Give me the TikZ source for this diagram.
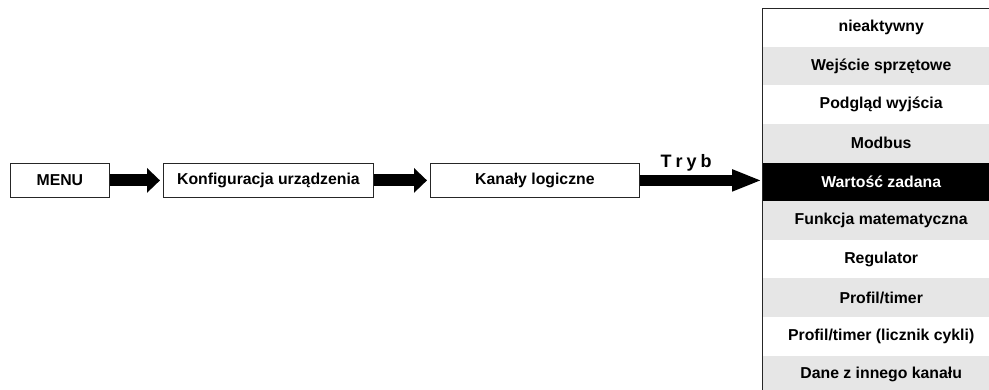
\documentclass[tikz,border=0pt]{standalone}
\usepackage{fontspec}
\setmainfont{Liberation Sans}
\usetikzlibrary{arrows.meta}
\definecolor{rowgray}{HTML}{E6E6E6}
\begin{document}
\begin{tikzpicture}[x=1pt,y=-1pt,
  font=\fontsize{15.8}{18}\selectfont\bfseries,
  box/.style={draw=black!85, line width=0.8pt, inner sep=0pt, minimum height=34pt, anchor=north west},
  row/.style={inner sep=0pt, minimum width=238pt, minimum height=38.6pt, anchor=north west},
  fat/.style={draw=black, line width=12pt, -{Triangle[length=13pt,width=24pt]}},
  fatlong/.style={draw=black, line width=11pt, -{Triangle[length=30pt,width=20pt]}}]
\useasboundingbox (0,0) rectangle (989,389);
\clip (0,0) rectangle (989,389);

\node[box, minimum width=99pt] (menu) at (10,163) {MENU};
\node[box, minimum width=210pt] (konf) at (163,163) {Konfiguracja urządzenia};
\node[box, minimum width=209pt] (kan) at (430,163) {Kanały logiczne};

\node[row, fill=white] (r0) at (762,8) {nieaktywny};
\node[row, fill=rowgray] (r1) at (762,46.6) {Wejście sprzętowe};
\node[row, fill=white] (r2) at (762,85.2) {Podgląd wyjścia};
\node[row, fill=rowgray] (r3) at (762,123.8) {Modbus};
\node[row, fill=black, text=white] (r4) at (762,162.4) {Wartość zadana};
\node[row, fill=rowgray] (r5) at (762,201) {Funkcja matematyczna};
\node[row, fill=white] (r6) at (762,239.6) {Regulator};
\node[row, fill=rowgray] (r7) at (762,278.2) {Profil/timer};
\node[row, fill=white] (r8) at (762,316.8) {Profil/timer (licznik cykli)};
\node[row, fill=rowgray] (r9) at (762,355.4) {Dane z innego kanału};
\draw[black!85, line width=0.8pt] (r9.south west) -- (r0.north west) -- ([xshift=30pt]r0.north east);

\draw[fat] (menu.east) -- ([xshift=-3pt]konf.west);
\draw[fat] (konf.east) -- ([xshift=-3pt]kan.west);
\draw[fatlong] (kan.east) -- (kan.east -| r4.west)
  node[pos=0.38, anchor=base, yshift=13pt, inner sep=0pt, font=\fontsize{18}{20}\selectfont\bfseries] (tryb) {T\kern4pt r\kern4pt y\kern4pt b};
\end{tikzpicture}
\end{document}
